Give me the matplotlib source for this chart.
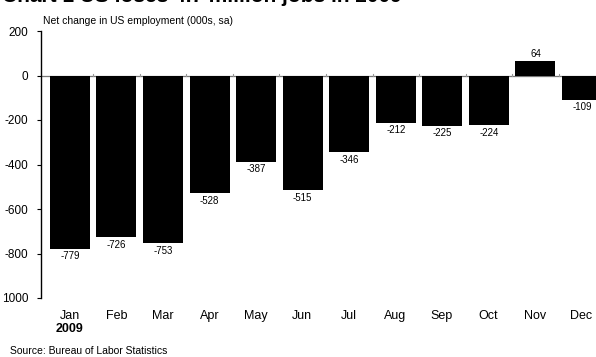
import matplotlib
matplotlib.use("Agg")
import matplotlib.pyplot as plt

plt.rcParams['font.family'] = ['Liberation Sans', 'DejaVu Sans']

months = ["Jan", "Feb", "Mar", "Apr", "May", "Jun", "Jul", "Aug", "Sep", "Oct", "Nov", "Dec"]
change = [-779, -726, -753, -528, -387, -515, -346, -212, -225, -224, 64, -109]
yticks = [200, 0, -200, -400, -600, -800, -1000]
ytick_labels = ["200", "0", "-200", "-400", "-600", "-800", "1000"]

fig = plt.figure(figsize=(5.96, 3.57), dpi=100)
ax = fig.add_axes([41 / 596, 1 - 298 / 357, 1 - 41 / 596, (298 - 31) / 357])

x = list(range(len(months)))
ax.bar(x, change, width=0.86, color="black", zorder=2)
ax.axhline(0, color="#777777", lw=0.9, zorder=1)
# little separators between the months on the zero line
for i in range(len(months) - 1):
    ax.plot([i + 0.5, i + 0.5], [0, 8], color="#999999", lw=0.8, zorder=1)

for xi, v in zip(x, change):
    if v < 0:
        ax.text(xi, v - 12, str(v), ha="center", va="top", fontsize=7)
    else:
        ax.text(xi, v + 12, str(v), ha="center", va="bottom", fontsize=7)

ax.set_ylim(-1000, 200)
ax.set_xlim(-0.62, 11.3)
ax.set_yticks(yticks)
ax.set_yticklabels(ytick_labels, fontsize=8.5)
ax.tick_params(axis="y", length=3, width=0.8, pad=6)
ax.set_xticks([])
for s in ["top", "right", "bottom"]:
    ax.spines[s].set_visible(False)
ax.spines["left"].set_linewidth(1)

for xi, m in zip(x, months):
    fig.text((41 + (xi + 0.62) * 46.5) / 596, 1 - 316 / 357, m,
             ha="center", va="center", fontsize=9)
fig.text(70 / 596, 1 - 329 / 357, "2009", ha="center", va="center",
         fontsize=9, fontweight="bold")

fig.text(10 / 596, 1 - 351 / 357, "Source: Bureau of Labor Statistics",
         ha="left", va="center", fontsize=7.5)
fig.text(43 / 596, 1 - 21 / 357, "Net change in US employment (000s, sa)",
         ha="left", va="center", fontsize=7.5)
fig.text(2 / 596, 1 + 3 / 357, "Chart 1 US loses 4.7 million jobs in 2009",
         ha="left", va="center", fontsize=15, fontweight="bold")

fig.savefig("out.png", dpi=100)
